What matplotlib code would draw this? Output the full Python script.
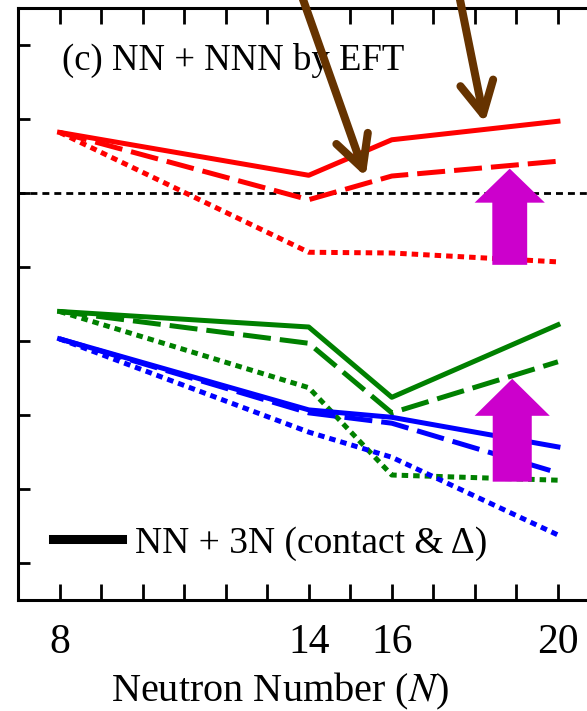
#!/usr/bin/env python3
"""Panel (c): NN + NNN by EFT, energies vs neutron number."""

import matplotlib

matplotlib.use("Agg")
import matplotlib.pyplot as plt
from matplotlib.lines import Line2D
from matplotlib.patches import FancyArrow, FancyArrowPatch

plt.rcParams["font.family"] = ["Liberation Serif", "DejaVu Serif"]
plt.rcParams["mathtext.fontset"] = "stix"

# neutron numbers where the curves are computed
N = [8, 14, 16, 20]

# red group
red_full = [0.82, 0.24, 0.72, 0.97]
red_dash = [0.82, -0.09, 0.23, 0.43]
red_dot = [0.82, -0.80, -0.81, -0.93]

# green group
green_full = [-1.60, -1.81, -2.76, -1.78]
green_dash = [-1.60, -2.03, -2.97, -2.28]
green_dot = [-1.60, -2.63, -3.81, -3.88]

# blue group
blue_full = [-1.97, -2.93, -3.03, -3.43]
blue_dash = [-1.97, -2.97, -3.11, -3.78]
blue_dot = [-1.97, -3.23, -3.57, -4.62]

xtick_labels = {8: "8", 14: "14", 16: "16", 20: "20"}

RED = "#ff0000"
GREEN = "#008000"
BLUE = "#0000ff"
BROWN = "#663300"
MAGENTA = "#cc00cc"

LW = 3.6
DASH = (0, (5.6, 1.8))
DOT = (0, (1.3, 1.0))


def main() -> None:
    fig = plt.figure(figsize=(5.87, 7.11), dpi=100)
    ax = fig.add_axes([0.0307, 0.156, 0.9905, 0.8327])
    ax.set_xlim(7, 21)
    ax.set_ylim(-5.5, 2.5)

    ax.axhline(0, color="black", lw=2.0, ls=(0, (2.5, 1.8)), zorder=1)

    for color, full, dash, dot in [
        (RED, red_full, red_dash, red_dot),
        (GREEN, green_full, green_dash, green_dot),
        (BLUE, blue_full, blue_dash, blue_dot),
    ]:
        ax.plot(N, dot, color=color, lw=LW, ls=DOT, zorder=2)
        ax.plot(N, dash, color=color, lw=LW, ls=DASH, zorder=3)
        ax.plot(N, full, color=color, lw=LW, zorder=4)

    # brown pointers coming from above the frame
    for start, tip in [((13.86, 2.62), (15.37, 0.22)), ((17.64, 2.62), (18.24, 0.95))]:
        ax.add_patch(
            FancyArrowPatch(
                start, tip,
                arrowstyle="->,head_length=1.15,head_width=0.6",
                mutation_scale=20, lw=5.8, color=BROWN,
                capstyle="round", joinstyle="round",
                shrinkA=0, shrinkB=0, clip_on=False, zorder=6,
            )
        )

    # magenta block arrows
    for x0, y0, dy, w, hw, hl in [
        (18.84, -0.97, 1.30, 0.84, 1.69, 0.46),
        (18.90, -3.90, 1.39, 0.94, 1.81, 0.50),
    ]:
        ax.add_patch(
            FancyArrow(x0, y0, 0, dy, width=w, head_width=hw, head_length=hl,
                       length_includes_head=True, color=MAGENTA, lw=0, zorder=5)
        )

    ax.text(0.0757, 0.895, "(c) NN + NNN by EFT", transform=ax.transAxes,
            fontsize=26.5, va="baseline", ha="left")

    handle = Line2D([], [], color="black", lw=6.5)
    ax.legend([handle], ["NN + 3N (contact & Δ)"], loc="center left",
              bbox_to_anchor=(0.06, 0.096), frameon=False, fontsize=27,
              handlelength=1.85, handletextpad=0.35, borderpad=0, borderaxespad=0)

    ax.set_xticks(range(7, 22))
    ax.set_xticklabels([xtick_labels.get(n, "") for n in range(7, 22)], fontsize=30)
    ax.set_yticks(range(-5, 3))
    ax.set_yticklabels([])
    ax.tick_params(axis="x", direction="in", top=True, length=11.5, width=2, pad=17)
    ax.tick_params(axis="y", direction="in", right=True, length=8.6, width=2)
    ax.set_xlabel("Neutron Number ($\\it{N}$)", fontsize=29)
    ax.xaxis.set_label_coords(0.45, -0.119)
    for s in ax.spines.values():
        s.set_linewidth(2.2)

    fig.savefig("out.png", dpi=100)
    plt.close(fig)


if __name__ == "__main__":
    main()
